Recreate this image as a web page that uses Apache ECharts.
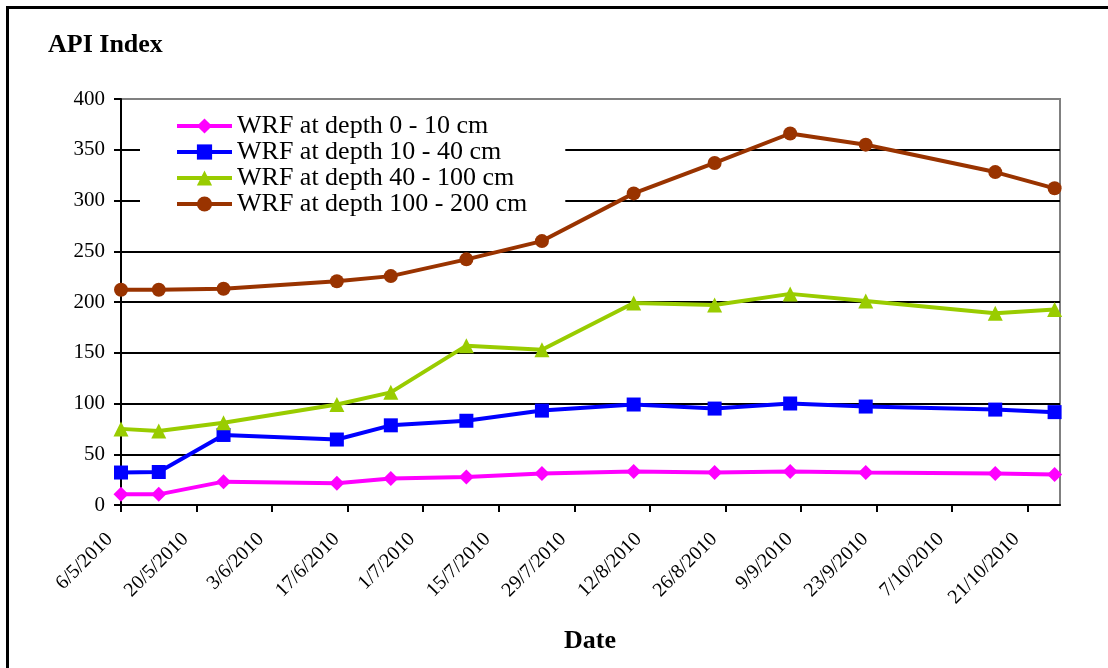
<!DOCTYPE html>
<html>
<head>
<meta charset="utf-8">
<script src="https://cdn.jsdelivr.net/npm/echarts@6/dist/echarts.min.js"></script>
<style>
html,body{margin:0;padding:0;background:#fff;}
#chart{width:1108px;height:668px;}
</style>
</head>
<body>
<div id="chart"></div>
<script>
// ---- data ----
var dates = ['2010-05-06','2010-05-13','2010-05-25','2010-06-15','2010-06-25','2010-07-09','2010-07-23',
             '2010-08-09','2010-08-24','2010-09-07','2010-09-21','2010-10-15','2010-10-26'];
var seriesNames = ['WRF at depth 0 - 10 cm','WRF at depth 10 - 40 cm','WRF at depth 40 - 100 cm','WRF at depth 100 - 200 cm'];
var depth0_10   = [10.5, 10.5, 23, 21.5, 26, 27.5, 31, 33, 32, 33, 32, 31, 30];
var depth10_40  = [32, 32.5, 69, 64.5, 78.5, 83, 93, 99, 95, 100, 97, 94, 91.5];
var depth40_100 = [75, 73, 81, 99, 111, 157, 153, 199, 197, 208, 201, 189, 192.5];
var depth100_200= [212, 212, 213, 220.5, 225.5, 242, 260, 307, 337, 366, 355, 328, 312];
var axisMinDate = '2010-05-06';
var axisMaxDate = '2010-10-27';
var tickStepDays = 14;

var DAY = 86400000;
function utc(s){ var p = s.split('-'); return Date.UTC(+p[0], +p[1]-1, +p[2]); }
var base = utc(axisMinDate);
function dayNum(s){ return Math.round((utc(s) - base) / DAY); }
function pairs(vals){ return dates.map(function(d,i){ return [dayNum(d), vals[i]]; }); }
var maxDay = dayNum(axisMaxDate);

var serif = '"Liberation Serif", "Times New Roman", serif';
var colors = ['#FF00FF','#0000FF','#99CC00','#993300'];
var symbols = ['diamond','rect','triangle','circle'];
var allVals = [depth0_10, depth10_40, depth40_100, depth100_200];

var splitColors = [];
for (var i = 0; i < 8; i++) splitColors.push('#000');
splitColors.push('#808080');

var chart = echarts.init(document.getElementById('chart'), null, {renderer:'canvas'});
chart.setOption({
  animation: false,
  backgroundColor: '#fff',
  title: [
    {text:'API Index', left:43, top:27, textStyle:{fontFamily:serif, fontSize:26, fontWeight:'bold', color:'#000'}},
    {text:'Date', left:559, top:623, textStyle:{fontFamily:serif, fontSize:26, fontWeight:'bold', color:'#000'}}
  ],
  graphic: [
    {type:'line', shape:{x1:7.5, y1:6, x2:7.5, y2:668}, style:{stroke:'#000', lineWidth:3}, z:100},
    {type:'line', shape:{x1:6, y1:7.5, x2:1108, y2:7.5}, style:{stroke:'#000', lineWidth:3}, z:100}
  ],
  legend: {
    orient:'vertical', left:140, top:103,
    padding:[10, 38, 8, 35],
    backgroundColor:'#fff',
    itemWidth:55, itemHeight:19, itemGap:0,
    lineStyle:{width:4},
    textStyle:{fontFamily:serif, fontSize:26, color:'#000', lineHeight:26},
    data: seriesNames
  },
  grid: {left:121, top:99, right:48, bottom:163, show:true, borderColor:'#808080', borderWidth:2, backgroundColor:'transparent'},
  xAxis: {
    type:'value',
    min: 0, max: maxDay, interval: tickStepDays,
    axisLine:{show:true, lineStyle:{color:'#000', width:2}},
    axisTick:{show:true, length:7, lineStyle:{color:'#000', width:2}},
    splitLine:{show:false},
    axisLabel:{
      rotate:45, margin:20, padding:[0,16,0,0], color:'#000', fontFamily:serif, fontSize:20,
      showMaxLabel:false,
      formatter:function(v){
        if (v % tickStepDays !== 0) return '';
        var d = new Date(base + v*DAY);
        return d.getUTCDate()+'/'+(d.getUTCMonth()+1)+'/'+d.getUTCFullYear();
      }
    }
  },
  yAxis: {
    type:'value', min:0, max:400, interval:50,
    axisLine:{show:true, lineStyle:{color:'#000', width:2}},
    axisTick:{show:true, inside:false, length:7, lineStyle:{color:'#000', width:2}},
    splitLine:{show:true, lineStyle:{color:splitColors, width:2}},
    axisLabel:{color:'#000', fontFamily:serif, fontSize:21, margin:16}
  },
  series: allVals.map(function(vals, k){
    return {
      name: seriesNames[k], type:'line', data: pairs(vals),
      symbol: symbols[k], symbolSize: k===0 ? 15 : (k===2 ? 15 : 14),
      showAllSymbol:true,
      lineStyle:{color:colors[k], width:4},
      itemStyle:{color:colors[k], borderWidth:0},
      z: 3
    };
  })
});
</script>
</body>
</html>
